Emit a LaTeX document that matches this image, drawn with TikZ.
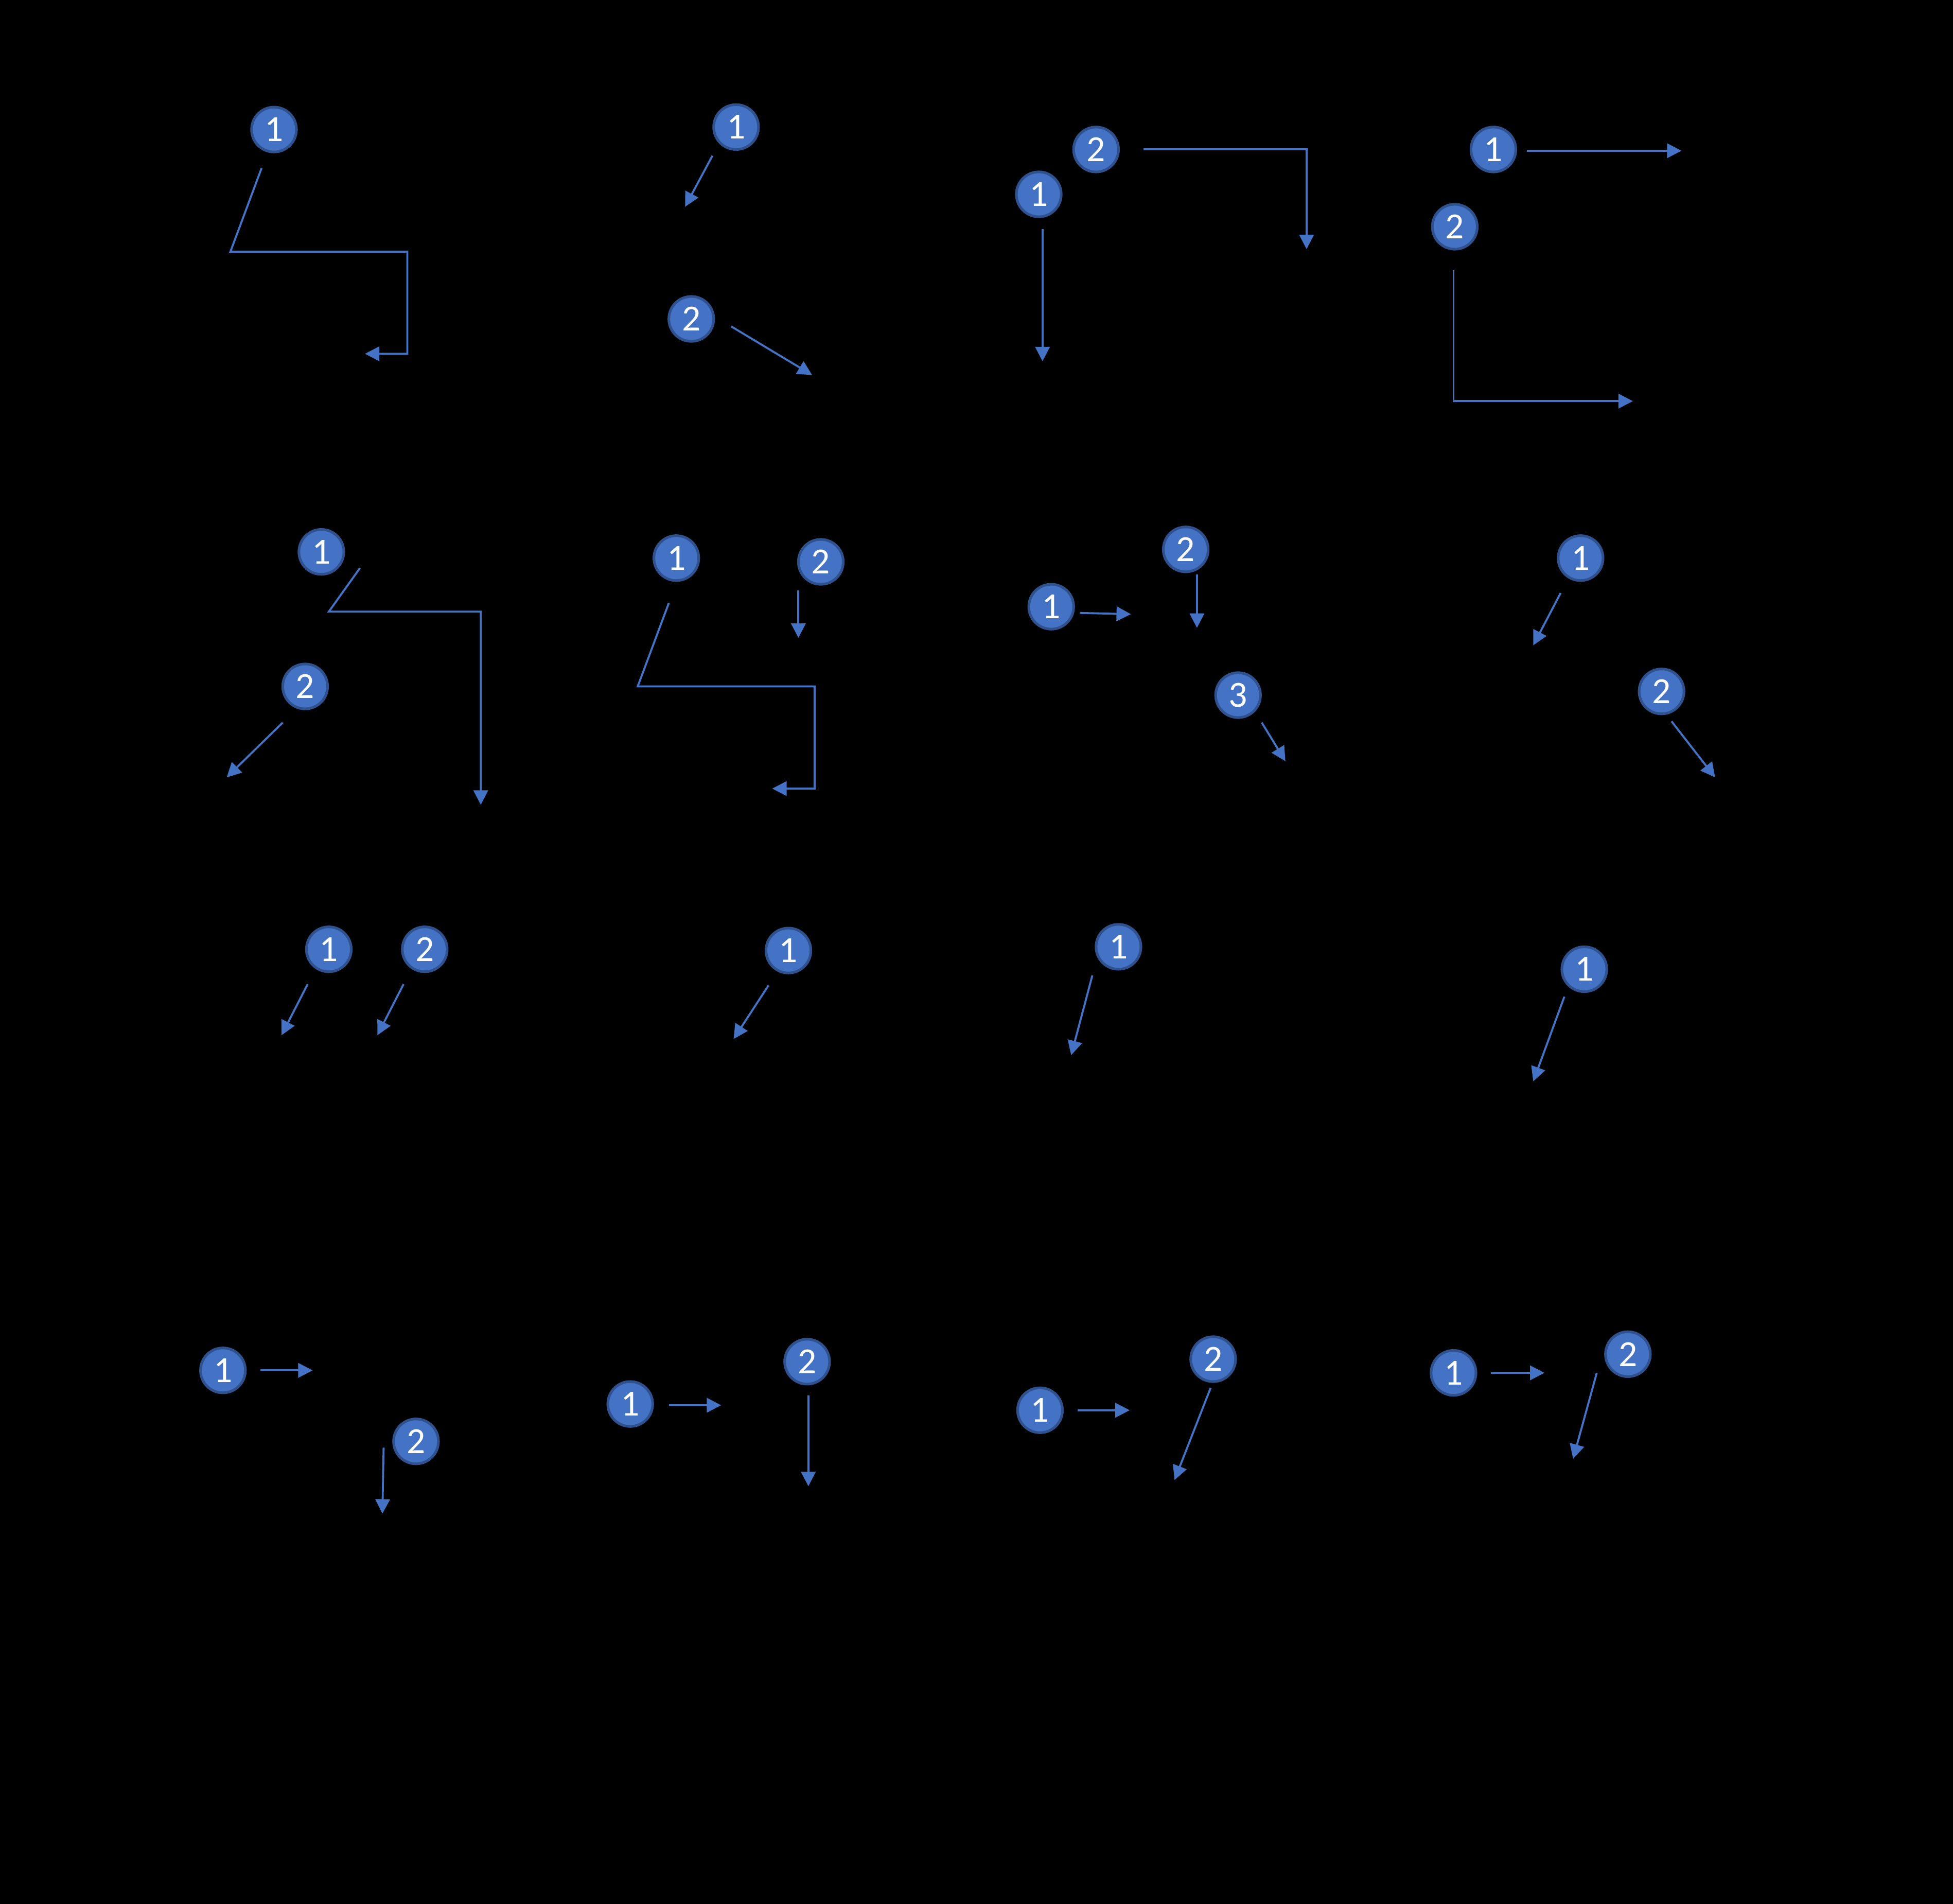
\documentclass[tikz,border=0pt]{standalone}
\usepackage{fontspec}
\setmainfont{Carlito}
\usepackage{tikz}
\usetikzlibrary{arrows.meta,positioning}
\definecolor{badgeblue}{HTML}{4472C4}
\definecolor{badgeedge}{HTML}{2F528F}

\begin{document}
\begin{tikzpicture}
	[x=0.01cm, y=-0.01cm,
	badge/.style	= {circle,draw=badgeedge,fill=badgeblue,line width=0.6pt,inner sep=0pt,minimum size=3.6mm,text=white,font=\fontsize{8.4}{9}\selectfont},
	paths/.style	= {-{Triangle[length=3.3pt,width=3.3pt]}, draw=badgeblue, line width=0.45pt}]

	\useasboundingbox (0,0) rectangle (1568,1528);
	\fill [black] (-10,-10) rectangle (1578,1538);

	% row 1
	\node at (220,104)	[badge]	(n11)	{1};
	\coordinate (s11) at (210,135);
	\coordinate (k11) at (185,202);
	\coordinate (l11) at (327,202);
	\coordinate (m11) at (327,284);
	\coordinate (e11) at (293,284);
	\draw [paths] (s11) -- (k11) -- (l11) -- (m11) -- (e11);

	\node at (591,102)	[badge]	(n21)	{1};
	\node at (555,256)	[badge]	(n22)	{2};
	\coordinate (s21) at (572,125);
	\coordinate (e21) at (550,166);
	\coordinate (s22) at (587,262);
	\coordinate (e22) at (652,301);
	\draw [paths] (s21) -- (e21);
	\draw [paths] (s22) -- (e22);

	\node at (834,156)	[badge]	(n31)	{1};
	\node at (880,120)	[badge]	(n32)	{2};
	\coordinate (s31) at (837,184);
	\coordinate (e31) at (837,290);
	\coordinate (s32) at (918,120);
	\coordinate (k32) at (1049,120);
	\coordinate (e32) at (1049,200);
	\draw [paths] (s31) -- (e31);
	\draw [paths] (s32) -- (k32) -- (e32);

	\node at (1199,120)	[badge]	(n41)	{1};
	\node at (1168,182)	[badge]	(n42)	{2};
	\coordinate (s41) at (1226,121);
	\coordinate (e41) at (1350,121);
	\coordinate (s42) at (1167,217);
	\coordinate (k42) at (1167,322);
	\coordinate (e42) at (1311,322);
	\draw [paths] (s41) -- (e41);
	\draw [paths] (s42) -- (k42) -- (e42);

	% row 2
	\node at (258,443)	[badge]	(n51)	{1};
	\node at (245,551)	[badge]	(n52)	{2};
	\coordinate (s51) at (289,456);
	\coordinate (k51) at (264,491);
	\coordinate (l51) at (386,491);
	\coordinate (e51) at (386,646);
	\coordinate (s52) at (227,580);
	\coordinate (e52) at (182,624);
	\draw [paths] (s51) -- (k51) -- (l51) -- (e51);
	\draw [paths] (s52) -- (e52);

	\node at (543,448)	[badge]	(n61)	{1};
	\node at (659,451)	[badge]	(n62)	{2};
	\coordinate (s61) at (537,484);
	\coordinate (k61) at (512,551);
	\coordinate (l61) at (654,551);
	\coordinate (m61) at (654,633);
	\coordinate (e61) at (620,633);
	\coordinate (s62) at (641,474);
	\coordinate (e62) at (641,512);
	\draw [paths] (s61) -- (k61) -- (l61) -- (m61) -- (e61);
	\draw [paths] (s62) -- (e62);

	\node at (844,487)	[badge]	(n71)	{1};
	\node at (952,441)	[badge]	(n72)	{2};
	\node at (994,558)	[badge]	(n73)	{3};
	\coordinate (s71) at (867,492);
	\coordinate (e71) at (908,493);
	\coordinate (s72) at (961,461);
	\coordinate (e72) at (961,504);
	\coordinate (s73) at (1013,580);
	\coordinate (e73) at (1032,611);
	\draw [paths] (s71) -- (e71);
	\draw [paths] (s72) -- (e72);
	\draw [paths] (s73) -- (e73);

	\node at (1269,448)	[badge]	(n81)	{1};
	\node at (1334,555)	[badge]	(n82)	{2};
	\coordinate (s81) at (1253,476);
	\coordinate (e81) at (1231,518);
	\coordinate (s82) at (1342,579);
	\coordinate (e82) at (1377,624);
	\draw [paths] (s81) -- (e81);
	\draw [paths] (s82) -- (e82);

	% row 3
	\node at (264,762)	[badge]	(n91)	{1};
	\node at (341,762)	[badge]	(n92)	{2};
	\coordinate (s91) at (247,790);
	\coordinate (e91) at (226,831);
	\coordinate (s92) at (324,790);
	\coordinate (e92) at (303,831);
	\draw [paths] (s91) -- (e91);
	\draw [paths] (s92) -- (e92);

	\node at (633,763)	[badge]	(n101)	{1};
	\coordinate (s101) at (617,791);
	\coordinate (e101) at (589,834);
	\draw [paths] (s101) -- (e101);

	\node at (898,760)	[badge]	(n111)	{1};
	\coordinate (s111) at (877,783);
	\coordinate (e111) at (860,847);
	\draw [paths] (s111) -- (e111);

	\node at (1272,778)	[badge]	(n121)	{1};
	\coordinate (s121) at (1256,800);
	\coordinate (e121) at (1231,868);
	\draw [paths] (s121) -- (e121);

	% row 4
	\node at (179,1100)	[badge]	(n131)	{1};
	\node at (334,1157)	[badge]	(n132)	{2};
	\coordinate (s131) at (209,1100);
	\coordinate (e131) at (251,1100);
	\coordinate (s132) at (308,1162);
	\coordinate (e132) at (307,1215);
	\draw [paths] (s131) -- (e131);
	\draw [paths] (s132) -- (e132);

	\node at (506,1127)	[badge]	(n141)	{1};
	\node at (648,1093)	[badge]	(n142)	{2};
	\coordinate (s141) at (537,1128);
	\coordinate (e141) at (579,1128);
	\coordinate (s142) at (649,1120);
	\coordinate (e142) at (649,1193);
	\draw [paths] (s141) -- (e141);
	\draw [paths] (s142) -- (e142);

	\node at (835,1132)	[badge]	(n151)	{1};
	\node at (974,1091)	[badge]	(n152)	{2};
	\coordinate (s151) at (865,1132);
	\coordinate (e151) at (907,1132);
	\coordinate (s152) at (972,1114);
	\coordinate (e152) at (943,1188);
	\draw [paths] (s151) -- (e151);
	\draw [paths] (s152) -- (e152);

	\node at (1167,1102)	[badge]	(n161)	{1};
	\node at (1307,1087)	[badge]	(n162)	{2};
	\coordinate (s161) at (1197,1102);
	\coordinate (e161) at (1240,1102);
	\coordinate (s162) at (1282,1102);
	\coordinate (e162) at (1263,1171);
	\draw [paths] (s161) -- (e161);
	\draw [paths] (s162) -- (e162);

\end{tikzpicture}
\end{document}
